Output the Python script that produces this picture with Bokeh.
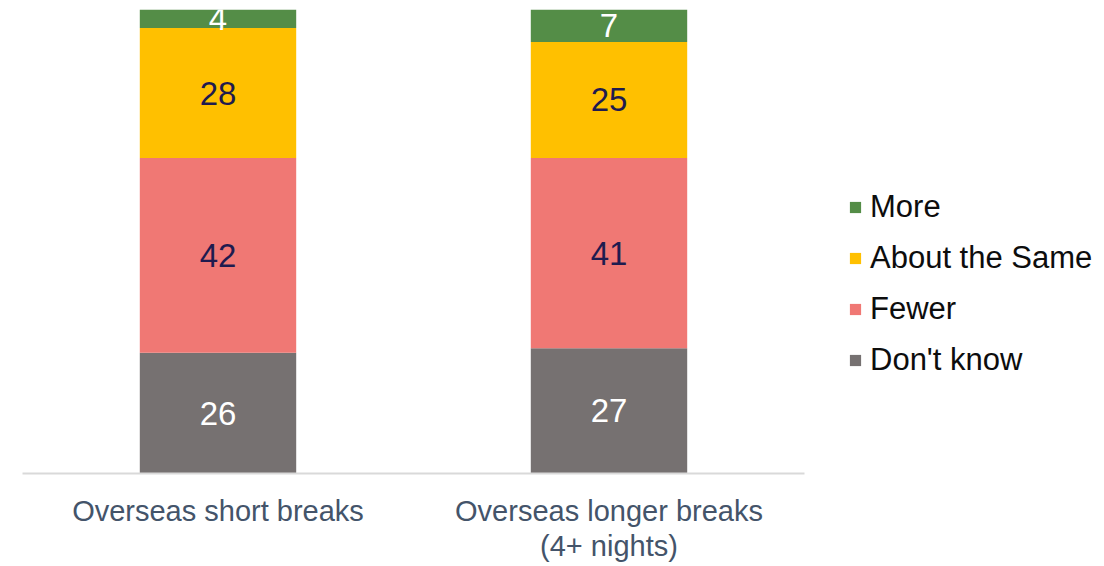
from bokeh.plotting import figure
from bokeh.models import ColumnDataSource, Legend, LegendItem
from bokeh.core.properties import value
from bokeh.embed import file_html
from bokeh.resources import INLINE

categories = ["Overseas short breaks", "Overseas longer breaks\n(4+ nights)"]
dont_know = [26, 27]
fewer = [42, 41]
about_same = [28, 25]
more = [4, 7]

series_names = ["Don't know", "Fewer", "About the Same", "More"]
series_keys = ["dk", "fewer", "same", "more"]
colors = ["#767171", "#F07874", "#FFC000", "#548D47"]
label_colors = ["#FFFFFF", "#1F1B4F", "#1F1B4F", "#FFFFFF"]

FONT = "Liberation Sans"

data = {"cat": categories, "dk": dont_know, "fewer": fewer, "same": about_same, "more": more}
source = ColumnDataSource(data)

p = figure(x_range=categories, y_range=(0, 100), frame_width=782, frame_height=464,
           output_backend="svg", toolbar_location=None,
           min_border_left=22, min_border_right=0, min_border_top=9, min_border_bottom=93)
p.outline_line_color = None
p.background_fill_color = "white"
p.border_fill_color = "white"

renderers = p.vbar_stack(series_keys, x="cat", width=0.40, source=source,
                         color=colors, line_color=None)

# value labels at the middle of each segment
series_vals = [dont_know, fewer, about_same, more]
base = [0.0] * len(categories)
for vals, lc in zip(series_vals, label_colors):
    mids = [b + v / 2 for b, v in zip(base, vals)]
    src = ColumnDataSource(dict(x=categories, y=mids, t=[str(v) for v in vals]))
    p.text(x="x", y="y", text="t", source=src, text_align="center", text_baseline="middle",
           text_color=lc, text_font=value(FONT), text_font_size="33px")
    base = [b + v for b, v in zip(base, vals)]

p.yaxis.visible = False
p.xgrid.visible = False
p.ygrid.visible = False
p.xaxis.axis_line_color = "#D9D9D9"
p.xaxis.axis_line_width = 2
p.xaxis.major_tick_line_color = None
p.xaxis.minor_tick_line_color = None
p.xaxis.major_label_text_font = FONT
p.xaxis.major_label_text_font_size = "29px"
p.xaxis.major_label_text_line_height = 1.1
p.xaxis.major_label_text_color = "#44546A"
p.xaxis.major_label_standoff = 15

items = [LegendItem(label=n, renderers=[r]) for n, r in zip(series_names, renderers)]
items = items[::-1]
legend = Legend(items=items, location=(44, 95), orientation="vertical",
                glyph_width=14, glyph_height=14, label_standoff=8, spacing=15,
                label_height=34, padding=0, margin=0,
                label_text_font=FONT, label_text_font_size="31px", label_text_color="#0D0D0D",
                border_line_color=None, background_fill_alpha=0)
p.add_layout(legend, "right")

open("out.html", "w").write(file_html(p, INLINE))
